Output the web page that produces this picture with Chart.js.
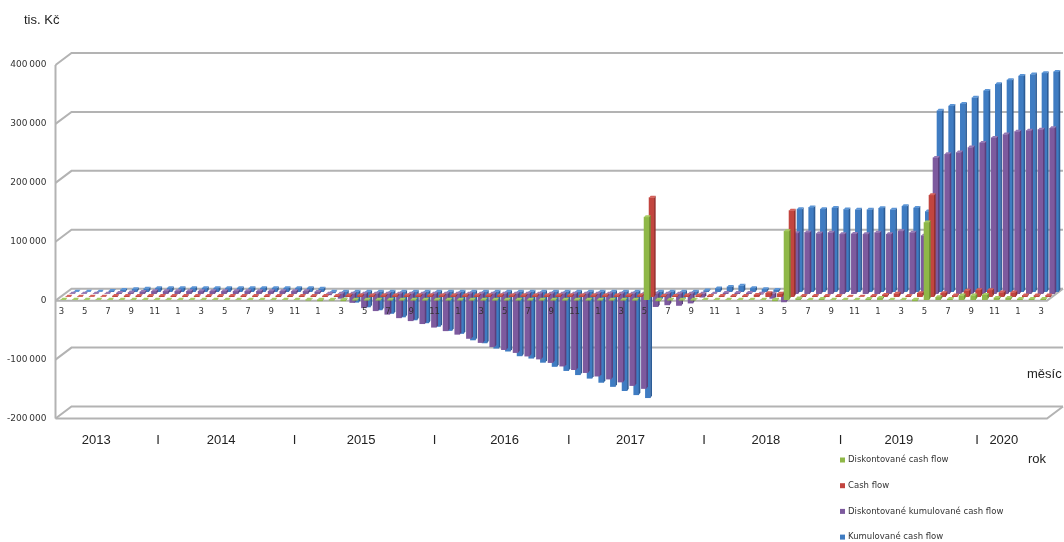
<!DOCTYPE html>
<html lang="cs">
<head>
<meta charset="utf-8">
<title>Cash flow</title>
<script src="https://cdn.jsdelivr.net/npm/chart.js@4"></script>
<style>
html,body{margin:0;padding:0;background:#fff}
#box{position:relative;width:1064px;height:542px}
</style>
</head>
<body>
<div id="box"><canvas id="c" width="1064" height="542"></canvas></div>
<script>
// Month numbers, March 2013 to March 2020
const monthLabels = [3,4,5,6,7,8,9,10,11,12,
  1,2,3,4,5,6,7,8,9,10,11,12,
  1,2,3,4,5,6,7,8,9,10,11,12,
  1,2,3,4,5,6,7,8,9,10,11,12,
  1,2,3,4,5,6,7,8,9,10,11,12,
  1,2,3,4,5,6,7,8,9,10,11,12,
  1,2,3,4,5,6,7,8,9,10,11,12,
  1,2,3];
// Year captions and their separators, anchored on the month axis
const yearMarkLabels = ['2013','I','2014','I','2015','I','2016','I','2017','I','2018','I','2019','I','2020'];
const yearMarkMonths = [3,8.3,13.7,20,25.7,32,38,43.5,48.8,55.1,60.4,66.8,71.8,78.5,80.8];

const yTicks = [400000,300000,200000,100000,0,-100000,-200000];

const seriesNames = ['Diskontované cash flow','Cash flow','Diskontované kumulované cash flow','Kumulované cash flow'];

// Values in thousands of CZK
const discountedCashFlow = [0,0,0,0,0,0,0,0,0,0,
  0,0,0,0,0,0,0,0,0,0,0,-1,
  -2,-1,-2,-1,-1,-1,-1,-1,-1,-1,-1,-1,-1,-1,-1,-1,-1,-1,-1,-1,-1,-1,-1,-1,-1,-1,-1,-1,
  140,-2,-1,-1,-1,0,0,0,0,0,0,-2,
  116,2,0,1,0,0,0,1,3,0,0,-2,
  131,4,1,7,7,8,3,3,1,1,1];
const cashFlow = [0,0,0,0,1,1,1,1,1,1,
  1,1,1,1,1,1,1,1,1,1,1,1,
  1,1,2,2,2,2,2,2,2,2,2,2,2,2,2,2,2,2,2,2,2,2,2,2,2,2,2,2,
  168,1,1,2,2,1,1,1,1,3,6,5,
  146,1,1,1,1,0,0,1,3,5,1,6,
  172,6,2,10,11,11,7,7,2,2,2];
const discountedCumulative = [0,0,0,0,1,2,3,4,4,4,
  4,4,4,4,4,4,4,4,4,4,4,3,
  -2,-8,-15,-24,-29,-35,-41,-46,-51,-57,-63,-69,-76,-83,-90,-95,-100,-106,-111,-117,-123,-129,-134,-140,-145,-150,-156,-161,
  -22,-19,-20,-16,-6,0,1,1,1,-1,-8,-14,
  102.5,104,102,103.6,100.8,101.4,100.8,103.6,100.8,106,103.6,98.5,
  230.4,236.6,239.4,247.9,255.9,264.3,270,275,276.7,278.4,280.8];
const cumulative = [0,0,0,1,3,4,5,6,6,6,
  6,6,6,6,6,6,6,6,6,6,6,5,
  -2,-9,-18,-26,-31,-37,-43,-48,-53,-59,-66,-71,-82,-87,-96,-101,-109,-113,-120,-127,-134,-141,-147,-154,-161,-168,-175,-180,
  -12,-8,-10,-5,2,5.5,8,10,6,4,3,1,
  140,143,140,142,139.5,139,139,141.6,139,145,142,136,
  307,315,318.7,329,340.7,352,359,366,368.5,370.8,373];

const seriesValues = [discountedCashFlow,cashFlow,discountedCumulative,cumulative];
const seriesColors = ['#8fb848','#c2453f','#7d5a9e','#3f7cc2'];
const seriesSides  = ['#6f9434','#96302c','#5c3f7c','#2c5c96'];
const seriesCaps   = ['#a6cc62','#d4605a','#9478b4','#5b95d6'];
// Each series stands on its own row of the floor, further back and to the right
const rowShiftX = [2,7,11,15];
const rowShiftY = [-1,-4,-7,-9];

const depthX = 16, depthY = 12;
const wallColor = '#b3b3b3';
const textFont = '"Liberation Sans", Arial, sans-serif';
const smallFont = '"DejaVu Sans", sans-serif';

const formatThousands = v => v === 0 ? '0' : String(v).replace(/\B(?=(\d{3})+(?!\d))/g, '\u2009');

const extrudedBars = {
  id: 'extrudedBars',
  beforeDatasetDraw(chart, args) {
    chart.ctx.save();
    chart.ctx.translate(rowShiftX[args.index], rowShiftY[args.index]);
  },
  afterDatasetDraw(chart, args) {
    const ctx = chart.ctx, dx = 1.6, dy = 2, i = args.index;
    args.meta.data.forEach(bar => {
      const hw = bar.width / 2;
      const top = Math.min(bar.y, bar.base), bottom = Math.max(bar.y, bar.base);
      ctx.fillStyle = seriesSides[i];
      ctx.beginPath();
      ctx.moveTo(bar.x + hw, top);
      ctx.lineTo(bar.x + hw + dx, top - dy);
      ctx.lineTo(bar.x + hw + dx, bottom - dy);
      ctx.lineTo(bar.x + hw, bottom);
      ctx.closePath();
      ctx.fill();
      ctx.fillStyle = seriesCaps[i];
      ctx.beginPath();
      ctx.moveTo(bar.x - hw, top);
      ctx.lineTo(bar.x + hw, top);
      ctx.lineTo(bar.x + hw + dx, top - dy);
      ctx.lineTo(bar.x - hw + dx, top - dy);
      ctx.closePath();
      ctx.fill();
    });
    ctx.restore();
  }
};

const backWalls = {
  id: 'backWalls',
  beforeDatasetsDraw(chart) {
    const ctx = chart.ctx, y = chart.scales.y, a = chart.chartArea;
    ctx.save();
    ctx.strokeStyle = wallColor;
    ctx.lineWidth = 2;
    // Back wall gridlines with their slanted returns on the side wall
    yTicks.forEach(v => {
      const py = y.getPixelForValue(v);
      ctx.beginPath();
      ctx.moveTo(a.left, py);
      ctx.lineTo(a.left + depthX, py - depthY);
      ctx.lineTo(a.right + depthX, py - depthY);
      ctx.stroke();
    });
    // Front edge of the wall
    ctx.beginPath();
    ctx.moveTo(a.left, a.top);
    ctx.lineTo(a.left, a.bottom);
    ctx.stroke();
    // Floor at zero and base plate, both with a right-hand return
    [0, -200000].forEach(v => {
      const py = y.getPixelForValue(v);
      ctx.beginPath();
      ctx.moveTo(a.left, py);
      ctx.lineTo(a.right, py);
      ctx.lineTo(a.right + depthX, py - depthY);
      ctx.stroke();
    });
    ctx.restore();
  }
};

const captions = {
  id: 'captions',
  afterDraw(chart) {
    const ctx = chart.ctx;
    ctx.save();
    ctx.textBaseline = 'middle';
    ctx.textAlign = 'left';
    ctx.fillStyle = '#222';
    ctx.font = '13px ' + textFont;
    ctx.fillText('tis. Kč', 24, 20);
    ctx.fillText('měsíc', 1027, 374);
    ctx.fillText('rok', 1028, 459);
    // Legend column below the axis
    ctx.font = '8.5px ' + smallFont;
    seriesNames.forEach((name, i) => {
      const cy = 460 + i * 25.7;
      ctx.fillStyle = seriesColors[i];
      ctx.fillRect(840, cy - 2.5, 5, 5);
      ctx.fillStyle = '#333';
      ctx.fillText(name, 848, cy);
    });
    ctx.restore();
  }
};

new Chart(document.getElementById('c'), {
  type: 'bar',
  data: {
    labels: monthLabels,
    datasets: seriesNames.map((name, i) => ({
      label: name,
      data: seriesValues[i].map(v => v * 1000),
      backgroundColor: seriesColors[i],
      barThickness: 5,
      grouped: false,
      clip: false
    }))
  },
  options: {
    responsive: false,
    animation: false,
    layout: { padding: { top: 65, right: 17, left: 0, bottom: 0 } },
    plugins: { legend: { display: false }, tooltip: { enabled: false } },
    scales: {
      y: {
        min: -200000, max: 400000,
        afterFit(s) { s.width = 55.5; },
        afterBuildTicks(s) { s.ticks = yTicks.map(value => ({ value })); },
        grid: { display: false },
        border: { display: false },
        ticks: {
          padding: 1,
          color: '#333',
          font: { family: smallFont, size: 9 },
          callback: v => formatThousands(v)
        }
      },
      x: {
        axis: 'x',
        position: { y: 0 },
        stacked: false,
        grid: { display: false },
        border: { display: false },
        ticks: {
          autoSkip: false,
          maxRotation: 0,
          padding: -2,
          z: 1,
          color: '#333',
          font: { family: smallFont, size: 8.5 },
          callback(v, i) { return i % 2 === 0 ? String(monthLabels[i]) : ''; }
        }
      },
      x2: {
        axis: 'x',
        type: 'linear',
        position: 'bottom',
        offset: false,
        min: -0.5, max: 84.5,
        afterFit(s) { s.height = 123.5; },
        afterBuildTicks(s) { s.ticks = yearMarkMonths.map(value => ({ value })); },
        grid: { display: false },
        border: { display: false },
        ticks: {
          autoSkip: false,
          maxRotation: 0,
          padding: 6,
          color: '#222',
          font: { family: textFont, size: 13 },
          callback(v, i) { return yearMarkLabels[i]; }
        }
      }
    }
  },
  plugins: [backWalls, extrudedBars, captions]
});
</script>
</body>
</html>
